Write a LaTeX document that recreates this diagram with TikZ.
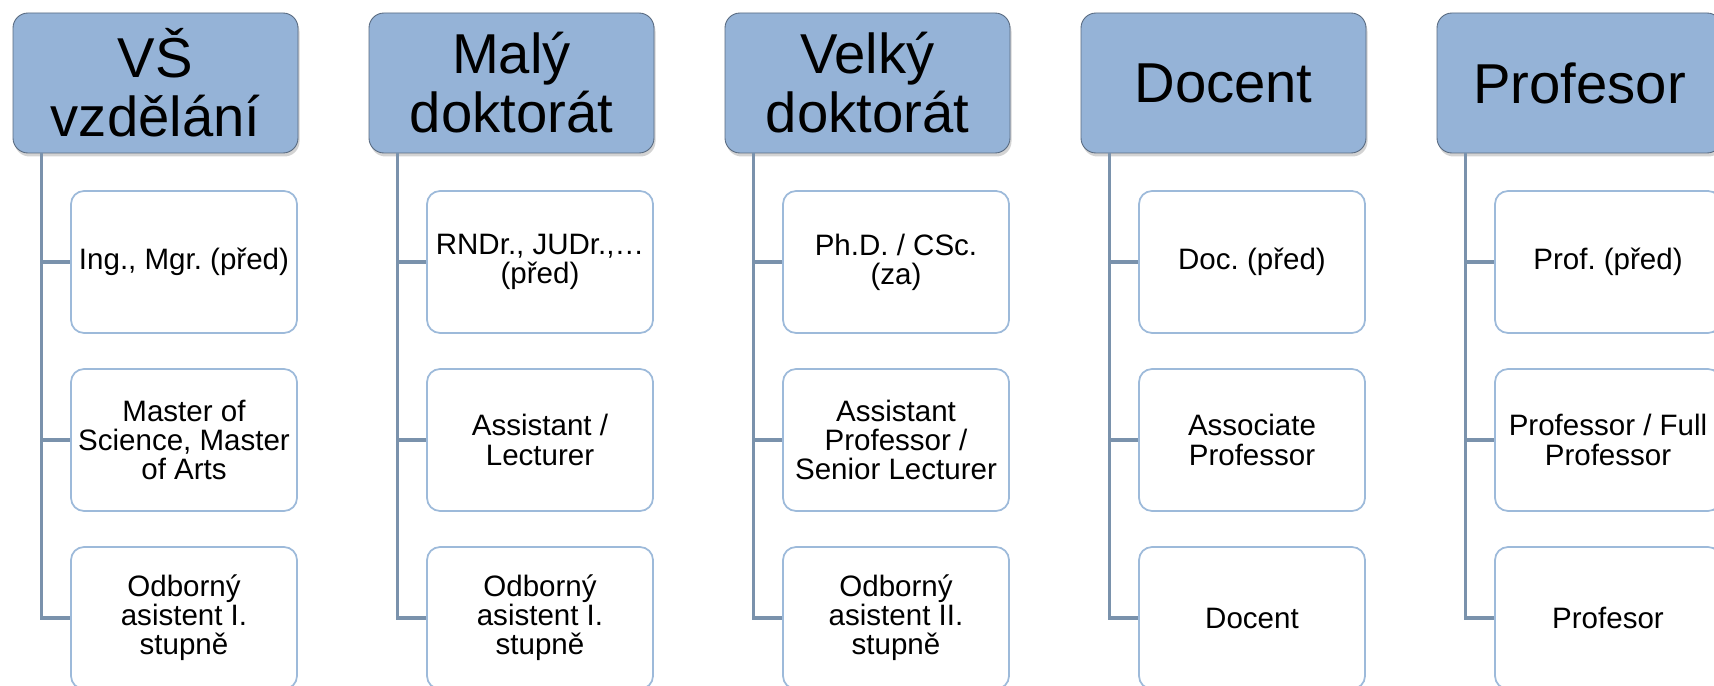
\documentclass[tikz,border=0pt]{standalone}
\usepackage{fontspec}
\setmainfont{Liberation Sans}
\usetikzlibrary{shadows}
\definecolor{headfill}{RGB}{149,179,215}
\definecolor{headline}{RGB}{88,106,128}
\definecolor{kidline}{RGB}{157,186,218}
\definecolor{linkcol}{RGB}{122,146,172}
\frenchspacing
\begin{document}
\begin{tikzpicture}[
head/.style={draw=headline, fill=headfill, line width=0.5pt,
 rounded corners=0.3cm, minimum width=5.7cm, minimum height=2.8cm,
 align=center, inner sep=0pt, font=\fontsize{32}{33.5}\selectfont,
 drop shadow={shadow xshift=0.03cm, shadow yshift=-0.07cm, opacity=0.35}},
kid/.style={draw=kidline, fill=white, line width=1pt,
 rounded corners=0.26cm, minimum width=4.52cm, minimum height=2.84cm,
 align=center, inner sep=0pt, font=\fontsize{16.8}{16.6}\selectfont},
link/.style={draw=linkcol, line width=2pt}
]
\clip (0,0) rectangle (34.28,-13.72);

\node[head] (h1) at (3.11,-1.66) {VŠ\\vzdělání};
\node[head] (h2) at (10.23,-1.66) {Malý\\doktorát};
\node[head] (h3) at (17.35,-1.66) {Velký\\doktorát};
\node[head] (h4) at (24.47,-1.66) {Docent};
\node[head] (h5) at (31.59,-1.66) {Profesor};

\node[kid] (c11) at (3.68,-5.24) {Ing., Mgr. (před)};
\node[kid] (c12) at (3.68,-8.80) {Master of\\Science, Master\\of Arts};
\node[kid] (c13) at (3.68,-12.36) {Odborný\\asistent I.\\stupně};

\node[kid] (c21) at (10.80,-5.24) {RNDr., JUDr.,…\\(před)};
\node[kid] (c22) at (10.80,-8.80) {Assistant /\\Lecturer};
\node[kid] (c23) at (10.80,-12.36) {Odborný\\asistent I.\\stupně};

\node[kid] (c31) at (17.92,-5.24) {Ph.D. / CSc.\\(za)};
\node[kid] (c32) at (17.92,-8.80) {Assistant\\Professor /\\Senior Lecturer};
\node[kid] (c33) at (17.92,-12.36) {Odborný\\asistent II.\\stupně};

\node[kid] (c41) at (25.04,-5.24) {Doc. (před)};
\node[kid] (c42) at (25.04,-8.80) {Associate\\Professor};
\node[kid] (c43) at (25.04,-12.36) {Docent};

\node[kid] (c51) at (32.16,-5.24) {Prof. (před)};
\node[kid] (c52) at (32.16,-8.80) {Professor / Full\\Professor};
\node[kid] (c53) at (32.16,-12.36) {Profesor};

\foreach \c in {1,...,5}
 \foreach \r in {1,2,3}
 \draw[link] ([xshift=0.58cm]h\c.south west) |- (c\c\r.west);

\end{tikzpicture}
\end{document}
